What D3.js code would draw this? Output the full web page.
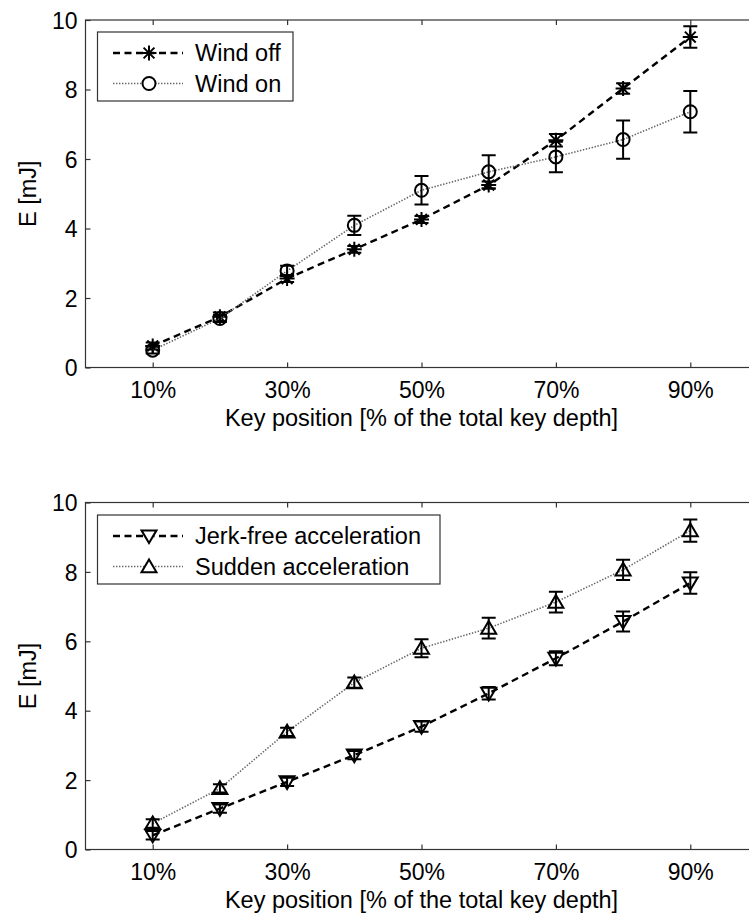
<!DOCTYPE html>
<html>
<head>
<meta charset="utf-8">
<script src="https://cdn.jsdelivr.net/npm/d3@7"></script>
<style>
  html, body { margin: 0; padding: 0; background: #fff; }
  svg { display: block; font-family: "Liberation Sans", Arial, Helvetica, sans-serif; }
</style>
</head>
<body>
<svg id="chart" width="749" height="916"></svg>
<script>
// Key positions (% of total key depth)
const positions = [10, 20, 30, 40, 50, 60, 70, 80, 90];
const xTicks = [10, 30, 50, 70, 90];
const yTicks = [0, 2, 4, 6, 8, 10];

// Energy E [mJ], upper panel
const windOff    = [0.62, 1.46, 2.56, 3.40, 4.26, 5.25, 6.54, 8.03, 9.51];
const windOffErr = [0.10, 0.12, 0.10, 0.10, 0.10, 0.10, 0.18, 0.15, 0.31];
const windOn     = [0.50, 1.41, 2.78, 4.09, 5.10, 5.63, 6.06, 6.56, 7.36];
const windOnErr  = [0.10, 0.10, 0.15, 0.28, 0.41, 0.48, 0.44, 0.55, 0.60];

// Energy E [mJ], lower panel
const jerkFree    = [0.41, 1.18, 1.95, 2.72, 3.54, 4.50, 5.51, 6.57, 7.68];
const jerkFreeErr = [0.12, 0.12, 0.12, 0.12, 0.15, 0.18, 0.20, 0.29, 0.31];
const sudden      = [0.75, 1.76, 3.39, 4.81, 5.80, 6.38, 7.13, 8.06, 9.19];
const suddenErr   = [0.12, 0.12, 0.12, 0.15, 0.26, 0.30, 0.30, 0.29, 0.32];

const svg = d3.select("#chart");
const AXIS = "#333";
const TICK_FONT = 23;
const LABEL_FONT = 23.5;

// Marker path generators, centred on (0,0)
const markers = {
  star: s => `M${-s},0H${s}M0,${-s}V${s}M${-s*0.72},${-s*0.72}L${s*0.72},${s*0.72}M${-s*0.72},${s*0.72}L${s*0.72},${-s*0.72}`,
  circle: s => `M${s},0A${s},${s} 0 1,1 ${-s},0A${s},${s} 0 1,1 ${s},0Z`,
  down: s => `M${-s},${-s*0.75}H${s}L0,${s*0.95}Z`,
  up: s => `M${-s},${s*0.75}H${s}L0,${-s*0.95}Z`
};
const markerSize = { star: 7.5, circle: 6.5, down: 7.5, up: 7.5 };

const lineStyles = {
  dashed: { stroke: "#000", width: 2.4, dash: "7,4.5" },
  dotted: { stroke: "#666", width: 1.6, dash: "1.4,1.6" }
};

function panel(cfg) {
  const x = d3.scaleLinear().domain([0, 100]).range([85.5, 757.5]);
  const y = d3.scaleLinear().domain([0, 10]).range([cfg.y0, cfg.y10]);
  const g = svg.append("g");

  // frame
  g.append("rect")
    .attr("x", x(0)).attr("y", y(10))
    .attr("width", x(100) - x(0)).attr("height", y(0) - y(10))
    .attr("fill", "none").attr("stroke", AXIS).attr("stroke-width", 1.2);

  // bottom axis with inward ticks
  const xb = g.append("g").attr("transform", `translate(0,${y(0)})`)
    .call(d3.axisBottom(x).tickValues(xTicks).tickFormat(d => d + "%")
      .tickSizeInner(-5).tickSizeOuter(0).tickPadding(14));
  // top axis ticks
  const xt = g.append("g").attr("transform", `translate(0,${y(10)})`)
    .call(d3.axisTop(x).tickValues(xTicks).tickFormat("")
      .tickSizeInner(-5).tickSizeOuter(0));
  // left axis with inward ticks
  const yl = g.append("g").attr("transform", `translate(${x(0)},0)`)
    .call(d3.axisLeft(y).tickValues(yTicks).tickFormat(d3.format("d"))
      .tickSizeInner(-5).tickSizeOuter(0).tickPadding(8));
  // right axis ticks
  const yr = g.append("g").attr("transform", `translate(${x(100)},0)`)
    .call(d3.axisRight(y).tickValues(yTicks).tickFormat("")
      .tickSizeInner(-5).tickSizeOuter(0));

  [xb, xt, yl, yr].forEach(a => {
    a.select(".domain").remove();
    a.selectAll(".tick line").attr("stroke", AXIS).attr("stroke-width", 1.2);
    a.selectAll(".tick text").attr("fill", "#000")
      .style("font-size", TICK_FONT + "px");
  });
  yl.selectAll(".tick text").attr("dy", "0.36em");

  // axis titles
  g.append("text")
    .attr("x", x(50)).attr("y", y(0) + 58)
    .attr("text-anchor", "middle").style("font-size", LABEL_FONT + "px")
    .text("Key position [% of the total key depth]");
  g.append("text")
    .attr("transform", `translate(36,${(y(0) + y(10)) / 2}) rotate(-90)`)
    .attr("text-anchor", "middle").style("font-size", LABEL_FONT + "px")
    .text("E [mJ]");

  // series
  cfg.series.forEach(s => {
    const st = lineStyles[s.line];
    const pts = positions.map((p, i) => ({ p, v: s.values[i], e: s.errors[i] }));
    g.append("path").datum(pts)
      .attr("d", d3.line().x(d => x(d.p)).y(d => y(d.v)))
      .attr("fill", "none").attr("stroke", st.stroke)
      .attr("stroke-width", st.width).attr("stroke-dasharray", st.dash);

    const eb = g.append("g").attr("stroke", "#000").attr("stroke-width", 2).attr("fill", "none");
    pts.forEach(d => {
      const cx = x(d.p), top = y(d.v + d.e), bot = y(d.v - d.e);
      eb.append("path")
        .attr("d", `M${cx},${top}V${bot}M${cx - 7},${top}H${cx + 7}M${cx - 7},${bot}H${cx + 7}`);
    });

    g.append("g").selectAll("path").data(pts).join("path")
      .attr("transform", d => `translate(${x(d.p)},${y(d.v)})`)
      .attr("d", markers[s.marker](markerSize[s.marker]))
      .attr("fill", "none").attr("stroke", "#000").attr("stroke-width", 2);
  });

  // legend
  const lg = g.append("g");
  lg.append("rect")
    .attr("x", 97.5).attr("y", cfg.legendTop)
    .attr("width", cfg.legendWidth).attr("height", 69)
    .attr("fill", "#fff").attr("stroke", AXIS).attr("stroke-width", 1.2);
  cfg.series.forEach((s, i) => {
    const st = lineStyles[s.line];
    const cy = cfg.legendTop + 21 + i * 30.5;
    lg.append("path").attr("d", `M113,${cy}H183`)
      .attr("stroke", st.stroke).attr("stroke-width", st.width)
      .attr("stroke-dasharray", st.dash).attr("fill", "none");
    lg.append("path").attr("transform", `translate(149,${cy})`)
      .attr("d", markers[s.marker](markerSize[s.marker]))
      .attr("fill", "#fff").attr("stroke", "#000").attr("stroke-width", 2);
    lg.append("text").attr("x", 195).attr("y", cy).attr("dy", "0.35em")
      .style("font-size", LABEL_FONT + "px").text(s.name);
  });
}

panel({
  y0: 367.5, y10: 20,
  legendTop: 32, legendWidth: 195.5,
  series: [
    { name: "Wind off", values: windOff, errors: windOffErr, line: "dashed", marker: "star" },
    { name: "Wind on", values: windOn, errors: windOnErr, line: "dotted", marker: "circle" }
  ]
});

panel({
  y0: 849.5, y10: 502.5,
  legendTop: 515, legendWidth: 342.5,
  series: [
    { name: "Jerk-free acceleration", values: jerkFree, errors: jerkFreeErr, line: "dashed", marker: "down" },
    { name: "Sudden acceleration", values: sudden, errors: suddenErr, line: "dotted", marker: "up" }
  ]
});
</script>
</body>
</html>
